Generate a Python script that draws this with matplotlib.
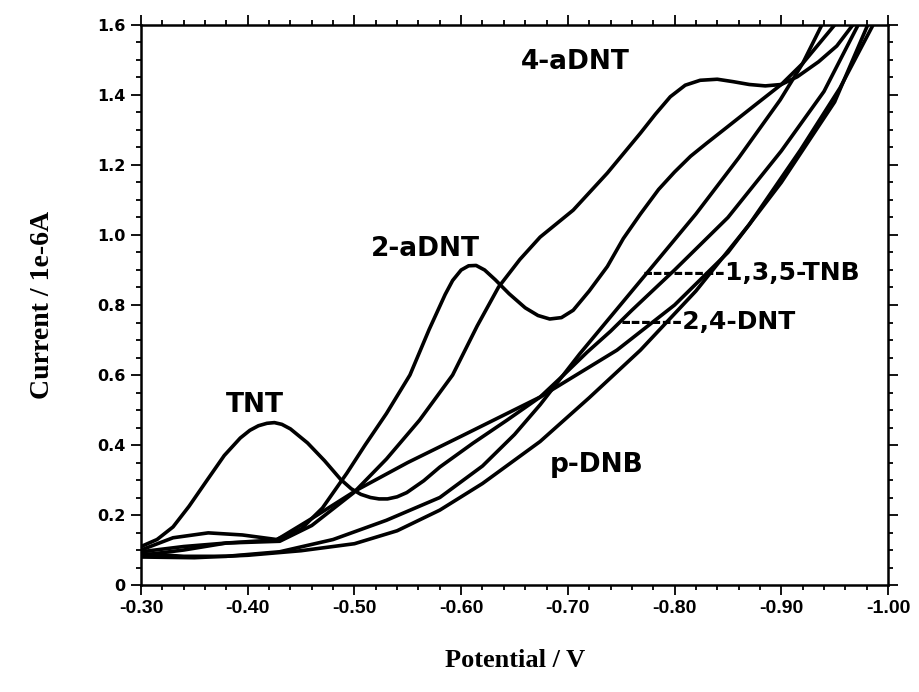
import matplotlib
matplotlib.use("Agg")
import matplotlib.pyplot as plt
from matplotlib.ticker import MultipleLocator, FixedLocator

# potential (V) / current (1e-6 A)
tnt_x = [-0.300, -0.315, -0.330, -0.345, -0.362, -0.378, -0.393, -0.402, -0.410, -0.418,
         -0.425, -0.432, -0.440, -0.456, -0.472, -0.487, -0.497, -0.506, -0.515, -0.523,
         -0.531, -0.540, -0.549, -0.565, -0.580, -0.611, -0.643, -0.674, -0.696, -0.718,
         -0.740, -0.760, -0.800, -0.850, -0.900, -0.940, -0.972]
tnt_y = [0.110, 0.130, 0.166, 0.225, 0.300, 0.370, 0.420, 0.442, 0.455, 0.462,
         0.464, 0.459, 0.446, 0.406, 0.355, 0.302, 0.275, 0.259, 0.250, 0.246,
         0.246, 0.252, 0.264, 0.298, 0.337, 0.405, 0.471, 0.537, 0.600, 0.665,
         0.725, 0.785, 0.900, 1.050, 1.240, 1.410, 1.600]

adnt2_x = [-0.300, -0.330, -0.363, -0.395, -0.427, -0.450, -0.470, -0.493, -0.510, -0.530,
           -0.552, -0.570, -0.585, -0.592, -0.600, -0.607, -0.614, -0.622, -0.632, -0.645,
           -0.660, -0.672, -0.683, -0.694, -0.705, -0.720, -0.737, -0.752, -0.768, -0.785,
           -0.800, -0.815, -0.830, -0.850, -0.877, -0.900, -0.920, -0.950]
adnt2_y = [0.100, 0.135, 0.149, 0.143, 0.130, 0.160, 0.220, 0.320, 0.400, 0.490,
           0.600, 0.730, 0.830, 0.870, 0.900, 0.912, 0.913, 0.900, 0.872, 0.832,
           0.792, 0.770, 0.760, 0.764, 0.785, 0.840, 0.910, 0.990, 1.060, 1.130,
           1.180, 1.225, 1.262, 1.310, 1.375, 1.430, 1.490, 1.600]

adnt4_x = [-0.300, -0.340, -0.380, -0.430, -0.460, -0.499, -0.530, -0.561, -0.592, -0.615,
           -0.635, -0.655, -0.674, -0.705, -0.737, -0.768, -0.782, -0.796, -0.810, -0.824,
           -0.840, -0.855, -0.870, -0.885, -0.900, -0.915, -0.935, -0.952, -0.967]
adnt4_y = [0.095, 0.110, 0.120, 0.125, 0.170, 0.263, 0.360, 0.471, 0.600, 0.740,
           0.851, 0.930, 0.994, 1.071, 1.177, 1.291, 1.345, 1.395, 1.428, 1.442,
           1.445, 1.438, 1.430, 1.426, 1.430, 1.452, 1.495, 1.540, 1.600]

tnb_x = [-0.300, -0.340, -0.380, -0.430, -0.480, -0.530, -0.580, -0.620, -0.650, -0.674,
         -0.711, -0.774, -0.820, -0.860, -0.899, -0.920, -0.938]
tnb_y = [0.090, 0.082, 0.082, 0.095, 0.130, 0.185, 0.250, 0.340, 0.430, 0.515,
         0.660, 0.891, 1.060, 1.220, 1.386, 1.490, 1.600]

dnt24_x = [-0.300, -0.340, -0.380, -0.427, -0.460, -0.502, -0.550, -0.600, -0.674, -0.746,
           -0.800, -0.850, -0.900, -0.950, -0.981]
dnt24_y = [0.085, 0.100, 0.120, 0.129, 0.190, 0.271, 0.350, 0.425, 0.537, 0.671,
           0.800, 0.950, 1.150, 1.380, 1.600]

pdnb_x = [-0.300, -0.350, -0.400, -0.450, -0.500, -0.540, -0.580, -0.620, -0.674, -0.720,
          -0.768, -0.820, -0.870, -0.918, -0.955, -0.986]
pdnb_y = [0.080, 0.078, 0.085, 0.098, 0.118, 0.155, 0.214, 0.290, 0.410, 0.535,
          0.671, 0.840, 1.030, 1.243, 1.420, 1.600]

curves = [(tnt_x, tnt_y), (adnt2_x, adnt2_y), (adnt4_x, adnt4_y),
          (tnb_x, tnb_y), (dnt24_x, dnt24_y), (pdnb_x, pdnb_y)]

x_ticks = [-0.30, -0.40, -0.50, -0.60, -0.70, -0.80, -0.90, -1.00]
x_labels = ['-0.30', '-0.40', '-0.50', '-0.60', '-0.70', '-0.80', '-0.90', '-1.00']
y_ticks = [0, 0.2, 0.4, 0.6, 0.8, 1.0, 1.2, 1.4, 1.6]
y_labels = ['0', '0.2', '0.4', '0.6', '0.8', '1.0', '1.2', '1.4', '1.6']

fig = plt.figure(figsize=(9.2, 6.92), dpi=100)
ax = fig.add_axes([0.1533, 0.1546, 0.8119, 0.8093])

for cx, cy in curves:
    ax.plot(cx, cy, color='black', lw=2.6, solid_joinstyle='round', solid_capstyle='round')

ax.set_xlim(-0.30, -1.00)
ax.set_ylim(0, 1.6)

ax.xaxis.set_major_locator(FixedLocator(x_ticks))
ax.set_xticklabels(x_labels, fontfamily=['Liberation Sans Narrow', 'Liberation Sans'],
                   fontweight='bold', fontsize=14)
ax.xaxis.set_minor_locator(MultipleLocator(0.02))
ax.yaxis.set_major_locator(FixedLocator(y_ticks))
ax.set_yticklabels(y_labels, fontfamily='DejaVu Sans', fontweight='bold', fontsize=11.5)
ax.yaxis.set_minor_locator(MultipleLocator(0.05))

ax.tick_params(which='both', direction='out', top=True, right=True, width=1.3)
ax.tick_params(which='major', length=7, pad=4)
ax.tick_params(which='minor', length=3.5)
for sp in ax.spines.values():
    sp.set_linewidth(1.8)

lab = dict(fontfamily='DejaVu Sans', fontweight='bold', fontsize=19, ha='center', va='center')
ax.text(-0.707, 1.494, '4-aDNT', **lab)
ax.text(-0.566, 0.960, '2-aDNT', **lab)
ax.text(-0.407, 0.514, 'TNT', **lab)
ax.text(-0.727, 0.343, 'p-DNB', **lab)
ax.text(-0.770, 0.891, '--------1,3,5-TNB', fontfamily='DejaVu Sans', fontweight='bold',
        fontsize=18, ha='left', va='center')
ax.text(-0.749, 0.751, '------2,4-DNT', fontfamily='DejaVu Sans', fontweight='bold',
        fontsize=18, ha='left', va='center')

fig.text(0.56, 0.045, 'Potential / V', fontfamily='Liberation Serif', fontweight='bold',
         fontsize=19, ha='center', va='center')
fig.text(0.046, 0.56, 'Current / 1e-6A', fontfamily='Liberation Serif', fontweight='bold',
         fontsize=20, ha='center', va='center', rotation=90)

fig.savefig('out.png', dpi=100)
